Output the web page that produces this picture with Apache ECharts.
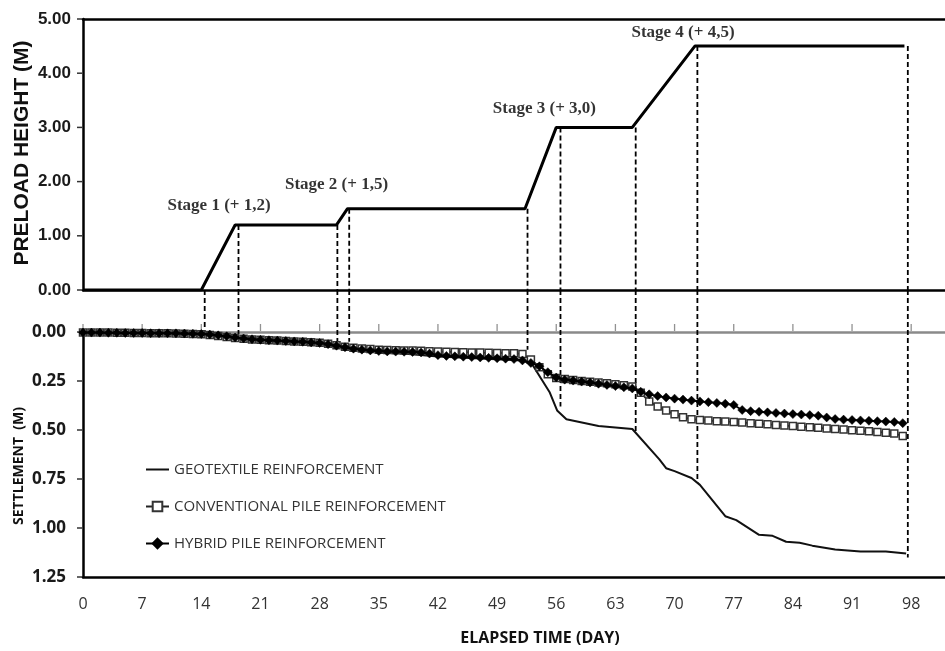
<!DOCTYPE html>
<html>
<head>
<meta charset="utf-8">
<script src="https://cdn.jsdelivr.net/npm/echarts@6/dist/echarts.min.js"></script>
<style>
html,body{margin:0;padding:0;background:#fff;}
#chart{width:945px;height:651px;}
</style>
</head>
<body>
<div id="chart"></div>
<script>
// ---------- DATA ----------
const xTicks = [0, 7, 14, 21, 28, 35, 42, 49, 56, 63, 70, 77, 84, 91, 98];
const preloadTicks = [0, 1, 2, 3, 4, 5];
const settlementTicks = [0, 0.25, 0.5, 0.75, 1.0, 1.25];

// Preload height (m) vs elapsed time (day)
const preloadDays = [0, 14, 18, 30, 31.3, 52.3, 56, 65, 72.4, 97.2];
const preloadHeight = [0, 0, 1.2, 1.2, 1.5, 1.5, 3.0, 3.0, 4.5, 4.5];

// Stage labels
const stageNames = ['Stage 1 (+ 1,2)', 'Stage 2 (+ 1,5)', 'Stage 3 (+ 3,0)', 'Stage 4 (+ 4,5)'];
const stageLabelDay = [16.1, 30.0, 54.6, 71.0];
const stageLabelHeight = [1.55, 1.94, 3.34, 4.74];

// Dashed stage markers: day, preload height at top end, settlement at bottom end
const markerDays = [14.4, 18.4, 30.1, 31.5, 52.6, 56.5, 65.4, 72.7, 97.6];
const markerTop = [0, 1.2, 1.2, 1.5, 1.5, 3.0, 3.0, 4.5, 4.5];
const markerBottom = [0, 0.01, 0.05, 0.05, 0.09, 0.38, 0.515, 0.77, 1.15];

// Settlement series (m)
const seriesNames = ['GEOTEXTILE REINFORCEMENT', 'CONVENTIONAL PILE REINFORCEMENT', 'HYBRID PILE REINFORCEMENT'];

const geoDays = [0, 14, 18, 21, 28, 31, 35, 42, 52, 53.2, 55.2, 56.1, 57.2, 61, 65, 68.2, 69, 70, 72, 73, 76, 77.3, 80, 81.6, 83.2, 84.8, 86.3, 89, 92, 95, 97.4];
const geoSettlement = [0, 0.008, 0.03, 0.04, 0.06, 0.08, 0.10, 0.125, 0.145, 0.168, 0.306, 0.40, 0.445, 0.48, 0.495, 0.65, 0.695, 0.71, 0.745, 0.78, 0.94, 0.96, 1.035, 1.04, 1.07, 1.075, 1.09, 1.11, 1.12, 1.12, 1.13];

const pileDays = [0,1,2,3,4,5,6,7,8,9,10,11,12,13,14,15,16,17,18,19,20,21,22,23,24,25,26,27,28,29,30,31,32,33,34,35,36,37,38,39,40,41,42,43,44,45,46,47,48,49,50,51,52,53,54,55,56,57,58,59,60,61,62,63,64,65,66,67,68,69,70,71,72,73,74,75,76,77,78,79,80,81,82,83,84,85,86,87,88,89,90,91,92,93,94,95,96,97];

const conventionalSettlement = [
  0.002,0.002,0.003,0.003,0.004,0.004,0.005,0.005,0.006,0.006,0.007,0.008,0.009,0.010,0.012,
  0.015,0.020,0.025,0.030,0.035,0.038,0.040,0.042,0.044,0.046,0.048,0.050,0.052,0.055,
  0.060,0.067,0.075,0.080,0.084,0.087,0.090,0.092,0.093,0.094,0.095,0.096,0.098,0.100,
  0.101,0.102,0.103,0.104,0.105,0.106,0.107,0.108,0.109,0.112,0.140,0.180,0.215,0.235,
  0.240,0.245,0.250,0.254,0.258,0.262,0.267,0.272,0.278,0.310,0.355,0.380,0.400,0.420,
  0.435,0.445,0.449,0.452,0.455,0.457,0.459,0.462,0.465,0.468,0.471,0.474,0.477,0.480,
  0.483,0.486,0.489,0.492,0.495,0.498,0.501,0.504,0.507,0.510,0.514,0.518,0.530
];

const hybridSettlement = [
  0.003,0.003,0.003,0.004,0.004,0.005,0.005,0.005,0.006,0.006,0.007,0.007,0.008,0.009,0.010,
  0.013,0.017,0.022,0.028,0.033,0.037,0.040,0.042,0.044,0.046,0.048,0.050,0.053,0.056,
  0.062,0.070,0.078,0.085,0.090,0.094,0.097,0.099,0.100,0.101,0.102,0.104,0.110,0.118,
  0.122,0.124,0.126,0.128,0.130,0.132,0.134,0.136,0.138,0.145,0.158,0.175,0.205,0.232,
  0.243,0.248,0.253,0.258,0.264,0.270,0.276,0.282,0.288,0.305,0.318,0.327,0.334,0.340,
  0.345,0.350,0.354,0.358,0.362,0.366,0.372,0.398,0.404,0.407,0.410,0.413,0.416,0.419,
  0.421,0.424,0.427,0.436,0.444,0.447,0.449,0.451,0.453,0.455,0.457,0.459,0.465
];

// ---------- LAYOUT ----------
const L = 83, R = 0;
const TOP_T = 19, TOP_H = 271;
const BOT_T = 332, BOT_H = 245;
const X_MAX = 102;
const GAP_PX = BOT_T - (TOP_T + TOP_H);
// settlement value reaching from bottom panel's 0 line up to the top panel's 0 line
const gapSettlement = -GAP_PX / (BOT_H / 1.25);
const X_TICK_LEN = 7, Y_TICK_LEN = 5;

const zip = (a, b) => a.map((v, i) => [v, b[i]]);

const series = [];

series.push({
  name: 'preload', type: 'line', xAxisIndex: 0, yAxisIndex: 0,
  data: zip(preloadDays, preloadHeight), symbol: 'none',
  lineStyle: { color: '#000', width: 3 }, z: 5
});

series.push({
  name: 'stages', type: 'scatter', xAxisIndex: 0, yAxisIndex: 0,
  data: stageNames.map((n, i) => ({ value: [stageLabelDay[i], stageLabelHeight[i]], name: n })),
  symbolSize: 0, silent: true,
  label: {
    show: true, position: 'inside', formatter: p => p.name,
    fontFamily: "'Liberation Serif', 'DejaVu Serif', serif", fontSize: 17, fontWeight: 'bold',
    color: '#000'
  }
});

// tick marks (drawn at the axis tick values)
series.push({
  type: 'scatter', xAxisIndex: 2, yAxisIndex: 1, silent: true, clip: false, z: 2,
  data: xTicks.map(t => [t, 0]),
  symbol: 'rect', symbolSize: [1.3, X_TICK_LEN], symbolOffset: [0, -(X_TICK_LEN / 2 + 1)],
  itemStyle: { color: '#777' }
});
series.push({
  type: 'scatter', xAxisIndex: 0, yAxisIndex: 0, silent: true, clip: false, z: 2,
  data: preloadTicks.map(t => [0, t]),
  symbol: 'rect', symbolSize: [Y_TICK_LEN, 1.5], symbolOffset: [-(Y_TICK_LEN / 2 + 1), 0],
  itemStyle: { color: '#000' }
});
series.push({
  type: 'scatter', xAxisIndex: 2, yAxisIndex: 1, silent: true, clip: false, z: 2,
  data: settlementTicks.map(t => [0, t]),
  symbol: 'rect', symbolSize: [Y_TICK_LEN, 1.5], symbolOffset: [-(Y_TICK_LEN / 2 + 1), 0],
  itemStyle: { color: '#000' }
});

markerDays.forEach((d, i) => {
  series.push({
    type: 'line', xAxisIndex: 0, yAxisIndex: 0, symbol: 'none', clip: false,
    data: [[d, markerTop[i]], [d, 0]],
    lineStyle: { color: '#000', width: 1.8, type: [5, 3] }, z: 3
  });
  series.push({
    type: 'line', xAxisIndex: 2, yAxisIndex: 1, symbol: 'none', clip: false,
    data: [[d, gapSettlement], [d, markerBottom[i]]],
    lineStyle: { color: '#000', width: 1.8, type: [5, 3] }, z: 3
  });
});

series.push({
  name: seriesNames[0], type: 'line', xAxisIndex: 2, yAxisIndex: 1,
  data: zip(geoDays, geoSettlement), symbol: 'none',
  itemStyle: { color: '#111' },
  lineStyle: { color: '#111', width: 2 }, z: 4
});
series.push({
  name: seriesNames[1], type: 'line', xAxisIndex: 2, yAxisIndex: 1,
  data: zip(pileDays, conventionalSettlement), symbol: 'rect', symbolSize: 7,
  itemStyle: { color: '#fff', borderColor: '#333', borderWidth: 1.5 },
  lineStyle: { color: '#222', width: 1.8 }, z: 5
});
series.push({
  name: seriesNames[2], type: 'line', xAxisIndex: 2, yAxisIndex: 1,
  data: zip(pileDays, hybridSettlement), symbol: 'diamond', symbolSize: 9,
  itemStyle: { color: '#000', borderColor: '#000', borderWidth: 0.5 },
  lineStyle: { color: '#000', width: 1.8 }, z: 6
});

const lineX = (color, width) => ({ show: true, onZero: false, lineStyle: { color, width } });

const option = {
  animation: false,
  backgroundColor: '#fff',
  grid: [
    { left: L, right: R, top: TOP_T, height: TOP_H, containLabel: false },
    { left: L, right: R, top: BOT_T, height: BOT_H, containLabel: false }
  ],
  xAxis: [
    { gridIndex: 0, type: 'value', min: 0, max: X_MAX, interval: 7, position: 'bottom',
      axisLine: lineX('#000', 2.5), axisTick: { show: false }, axisLabel: { show: false }, splitLine: { show: false } },
    { gridIndex: 0, type: 'value', min: 0, max: X_MAX, interval: 7, position: 'top',
      axisLine: lineX('#000', 2.5), axisTick: { show: false }, axisLabel: { show: false }, splitLine: { show: false } },
    { gridIndex: 1, type: 'value', min: 0, max: X_MAX, interval: 7, position: 'bottom',
      axisLine: lineX('#000', 2.5), axisTick: { show: false }, splitLine: { show: false },
      axisLabel: { show: true, margin: 19, showMaxLabel: false, color: '#333',
        fontFamily: "'Open Sans', sans-serif", fontSize: 16,
        formatter: v => (xTicks.indexOf(v) >= 0 ? String(v) : '') } },
    { gridIndex: 1, type: 'value', min: 0, max: X_MAX, interval: 7, position: 'top',
      axisLine: lineX('#8a8a8a', 2.5), splitLine: { show: false },
      axisTick: { show: false }, axisLabel: { show: false } }
  ],
  yAxis: [
    { gridIndex: 0, type: 'value', min: preloadTicks[0], max: preloadTicks[preloadTicks.length - 1], interval: 1,
      axisLine: lineX('#000', 2.5), splitLine: { show: false },
      axisTick: { show: false },
      axisLabel: { margin: 12, color: '#1a1a1a', fontFamily: "'Liberation Sans', Arial, sans-serif",
        fontSize: 17, fontWeight: 'bold', formatter: v => v.toFixed(2) } },
    { gridIndex: 1, type: 'value', min: settlementTicks[0], max: settlementTicks[settlementTicks.length - 1], interval: 0.25, inverse: true,
      axisLine: lineX('#000', 2.5), splitLine: { show: false },
      axisTick: { show: false },
      axisLabel: { margin: 17, color: '#1a1a1a', fontFamily: "'Open Sans', sans-serif",
        fontSize: 17, fontWeight: 'bold', formatter: v => v.toFixed(2) } }
  ],
  legend: {
    data: [
      { name: seriesNames[0], itemStyle: { color: 'rgba(0,0,0,0)', borderColor: 'rgba(0,0,0,0)', borderWidth: 0 },
        lineStyle: { color: '#111', width: 2, opacity: 1 } },
      { name: seriesNames[1] },
      { name: seriesNames[2] }
    ],
    orient: 'vertical', left: 140, top: 457,
    itemWidth: 23, itemHeight: 12, itemGap: 22,
    textStyle: { color: '#333', fontFamily: "'Open Sans', sans-serif", fontSize: 15 }
  },
  graphic: [
    { type: 'text', x: 22, y: 153, rotation: Math.PI / 2,
      style: { text: 'PRELOAD HEIGHT (M)', align: 'center', verticalAlign: 'middle',
        font: "bold 21px 'Liberation Sans', Arial, sans-serif", fill: '#111' } },
    { type: 'text', x: 19, y: 466, rotation: Math.PI / 2,
      style: { text: 'SETTLEMENT  (M)', align: 'center', verticalAlign: 'middle',
        font: "bold 14px 'Open Sans', sans-serif", fill: '#111' } },
    { type: 'text', x: 540, y: 638,
      style: { text: 'ELAPSED TIME (DAY)', align: 'center', verticalAlign: 'middle',
        font: "bold 16px 'Open Sans', sans-serif", fill: '#111' } }
  ],
  series
};

const chart = echarts.init(document.getElementById('chart'), null, { renderer: 'canvas' });
chart.setOption(option);
</script>
</body>
</html>
